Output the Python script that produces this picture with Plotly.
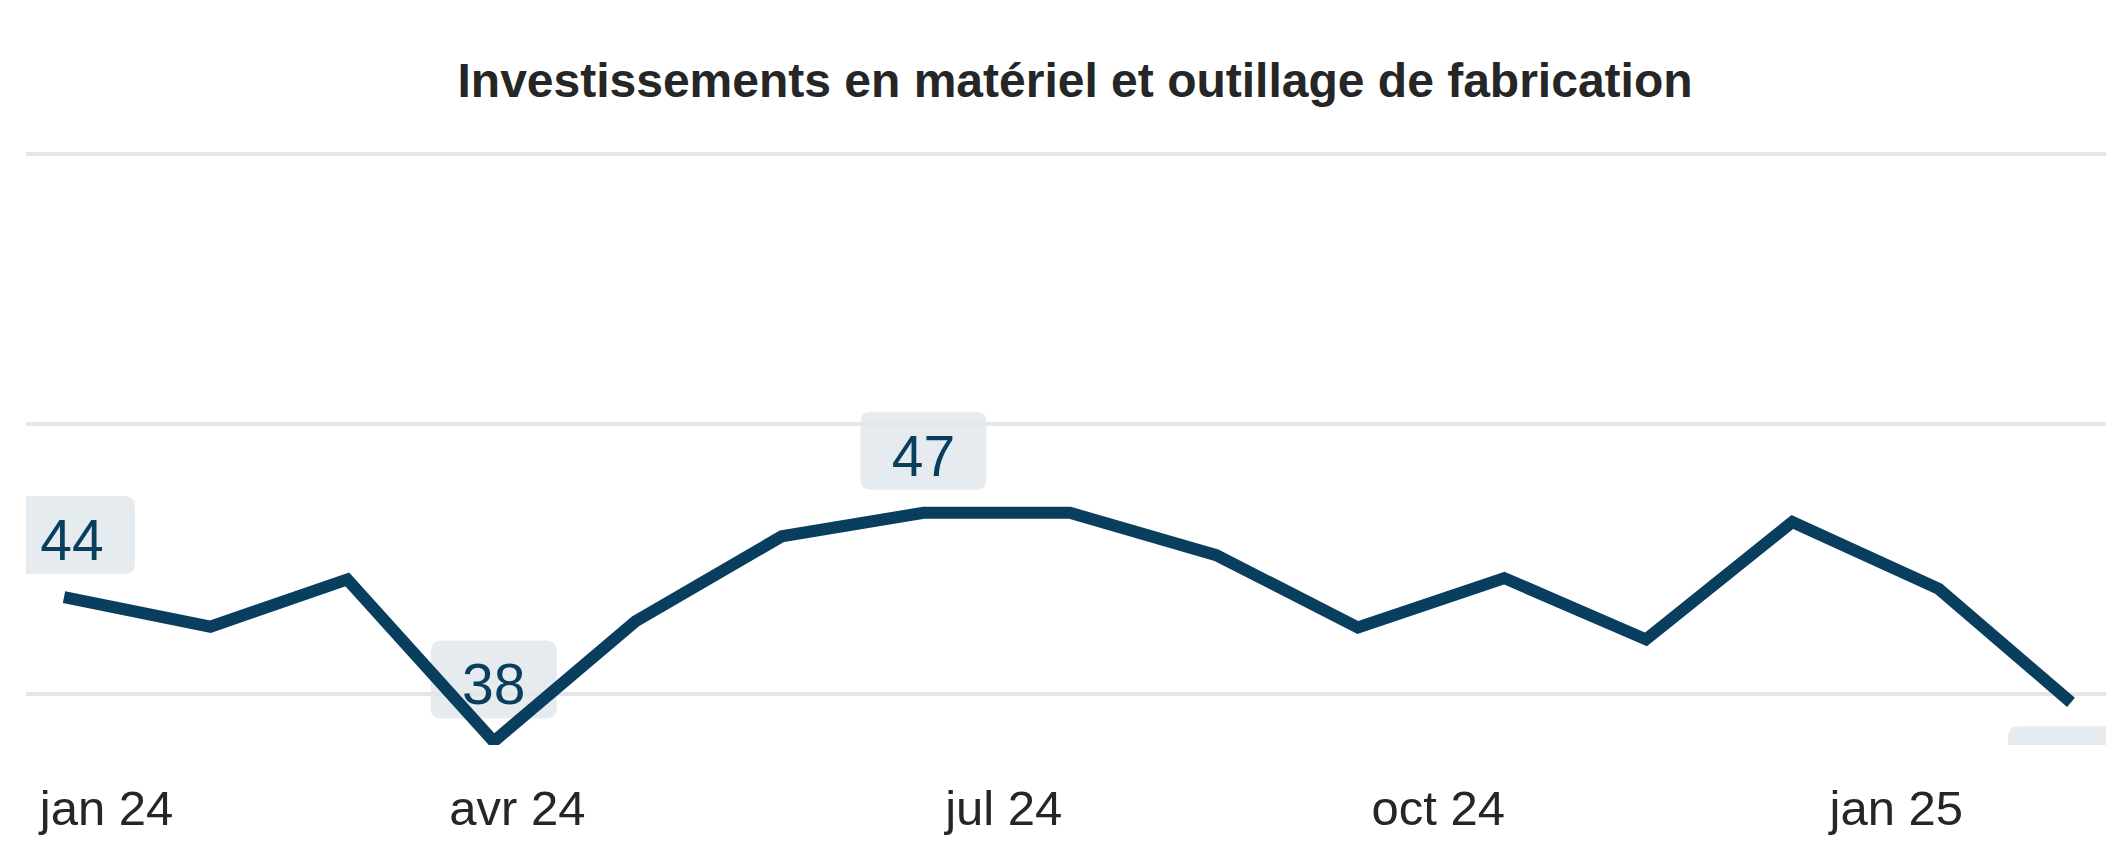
import pandas as pd
import plotly.graph_objects as go

# ---- data ----
months = ["2024-01-01", "2024-02-01", "2024-03-01", "2024-04-01", "2024-05-01",
          "2024-06-01", "2024-07-01", "2024-08-01", "2024-09-01", "2024-10-01",
          "2024-11-01", "2024-12-01", "2025-01-01", "2025-02-01", "2025-03-01"]
values = [43.6, 42.5, 44.25, 38.25, 42.7, 45.85, 46.72, 46.72, 45.15, 42.47,
          44.3, 42.03, 46.38, 43.9, 39.7]
tick_dates = ["2024-01-10", "2024-04-06", "2024-07-18", "2024-10-18", "2025-01-23"]
tick_labels = ["jan 24", "avr 24", "jul 24", "oct 24", "jan 25"]
title_text = "Investissements en matériel et outillage de fabrication"

# ---- styles ----
LINE = "#093e5f"
BOX = "#e6ebef"
GRID = "#e6e6e6"
TXT = "#262626"
FONT = "Liberation Sans, Arial, sans-serif"

W, H = 2106, 844
ML, MR, MT, MB = 26, 0, 146, 99
Y_RANGE = [38.12, 60.3]

x = pd.to_datetime(months)
# x axis range (pixel calibration of the date axis)
first_px, last_px = 64, 2071
ppd = (last_px - first_px) / (x[-1] - x[0]).days
x_lo = x[0] - pd.Timedelta(days=(first_px - ML) / ppd)
x_hi = x[0] + pd.Timedelta(days=(W - MR - first_px) / ppd)

fig = go.Figure()
fig.add_trace(go.Scatter(
    x=x, y=values, mode="lines",
    line=dict(color=LINE, width=12, shape="linear"),
    hoverinfo="x+y", showlegend=False, cliponaxis=True,
))

# labelled points: first, min, max, last  (placement, horizontal pixel nudge)
i_min = min(range(len(values)), key=lambda i: values[i])
i_max = max(range(len(values)), key=lambda i: values[i])
labelled = [(0, "above", 8), (i_min, "above", 0), (i_max, "above", 0),
            (len(values) - 1, "below", 0)]

bw, bh, gap, r = 63, 78, 23, 11


def rounded_path(y0, y1, dx):
    l, rr = -bw + dx, bw + dx
    return (f"M {l + r},{y0} L {rr - r},{y0} Q {rr},{y0} {rr},{y0 + r} "
            f"L {rr},{y1 - r} Q {rr},{y1} {rr - r},{y1} L {l + r},{y1} "
            f"Q {l},{y1} {l},{y1 - r} L {l},{y0 + r} Q {l},{y0} {l + r},{y0} Z")


for i, where, dx in labelled:
    if where == "above":
        p = rounded_path(gap, gap + bh, dx)
    else:
        p = rounded_path(-gap - bh - 1, -gap - 1, dx)
    common = dict(type="path", xref="x", yref="y",
                  xsizemode="pixel", ysizemode="pixel",
                  xanchor=x[i], yanchor=values[i], path=p)
    # background box (under gridlines and line)
    fig.add_shape(**common, fillcolor=BOX, line=dict(width=0), layer="below")
    # value text (on top, clipped to the plot area like the box)
    fig.add_shape(**common, fillcolor="rgba(0,0,0,0)", line=dict(width=0), layer="above",
                  label=dict(text=f"{round(values[i])}", textposition="middle center",
                             font=dict(family=FONT, size=57, color=LINE)))

fig.update_layout(
    width=W, height=H,
    margin=dict(l=ML, r=MR, t=MT, b=MB, pad=0, autoexpand=False),
    paper_bgcolor="white", plot_bgcolor="white",
    title=dict(text=title_text, x=1075 / W, xanchor="center",
               y=1 - 80 / H, yanchor="middle", yref="container",
               font=dict(family=FONT, size=48, color=TXT, weight="bold")),
    xaxis=dict(type="date", range=[x_lo, x_hi], tickvals=pd.to_datetime(tick_dates),
               ticktext=tick_labels, showgrid=False, zeroline=False, showline=False,
               ticks="", ticklabelstandoff=30, automargin=False,
               tickfont=dict(family=FONT, size=49, color=TXT)),
    yaxis=dict(range=Y_RANGE, tick0=0, dtick=10, showgrid=True,
               gridcolor=GRID, gridwidth=4, zeroline=False, showline=False,
               showticklabels=False, ticks="", automargin=False),
)

fig.write_html("out.html", config={"displayModeBar": False},
               post_script="document.body.style.margin='0';document.body.style.overflow='hidden';")
